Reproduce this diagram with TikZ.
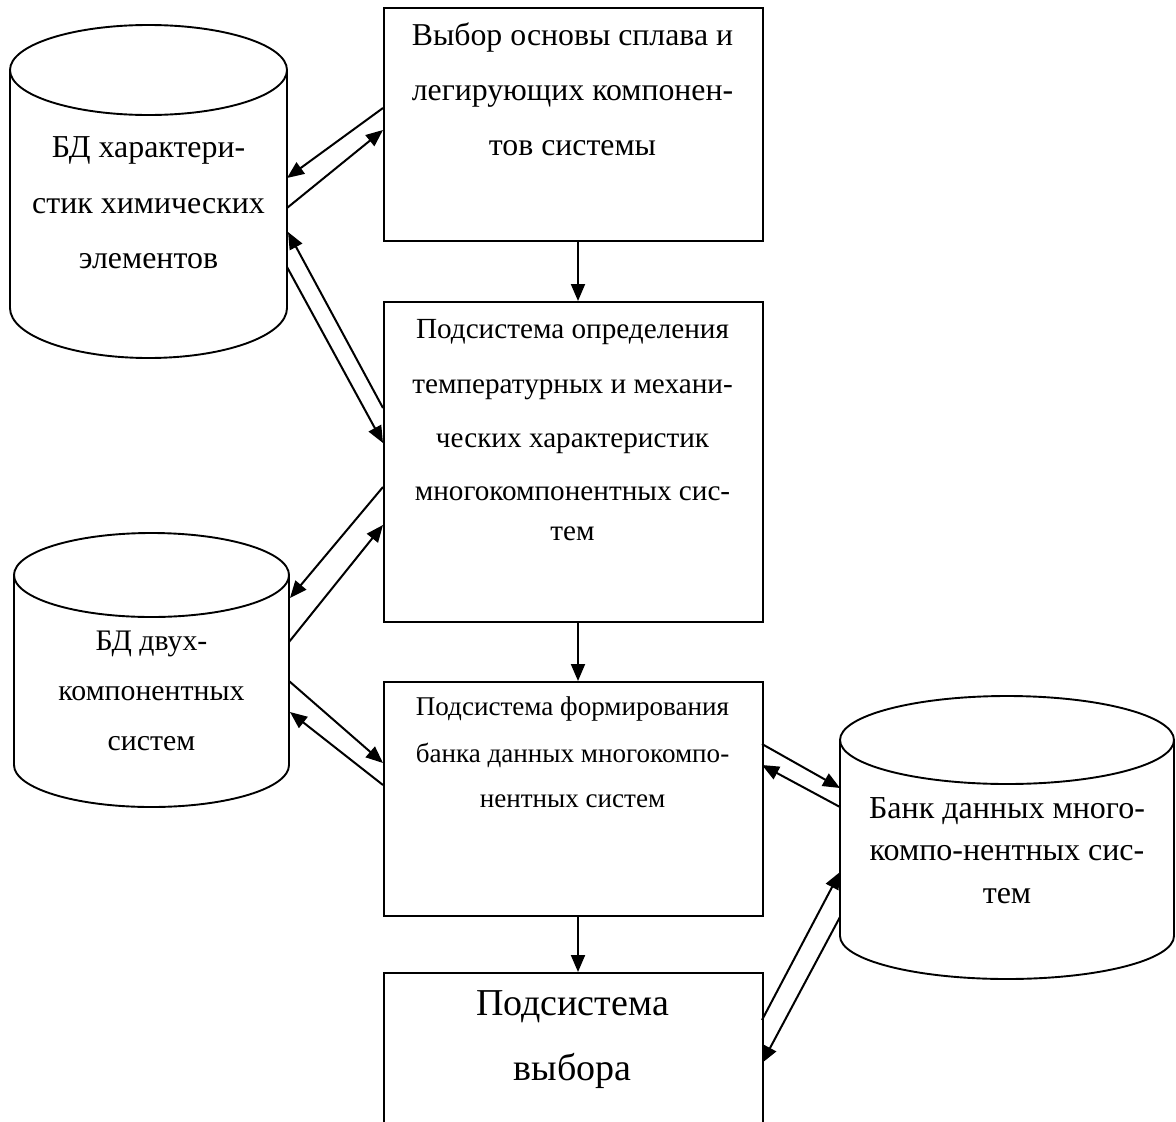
\documentclass[tikz,border=0pt]{standalone}
\usepackage{fontspec}
\setmainfont{Liberation Serif}
\usetikzlibrary{arrows.meta}
\begin{document}
\begin{tikzpicture}[x=1pt,y=-1pt,
  box/.style={draw, line width=2pt, rectangle, inner sep=0pt, anchor=north west, minimum width=379pt},
  ln/.style={anchor=base, inner sep=0pt},
  cyl/.style={line width=1.9pt},
  arr/.style={-{Triangle[length=17pt,width=14pt]}, line width=2pt}]
\useasboundingbox (0,0) rectangle (1176,1122);
\clip (0,0) rectangle (1176,1122);
% boxes
\node[box, minimum height=233pt] (b1) at (383,7) {};
\node[box, minimum height=320pt] (b2) at (383,301) {};
\node[box, minimum height=234pt] (b3) at (383,681) {};
\node[box, minimum height=200pt] (b4) at (383,972) {};
% cylinders
\draw[cyl] (10,70) -- (10,308) arc[start angle=180, end angle=360, x radius=138.5pt, y radius=50pt] -- (287,70);
\draw[cyl] (148.5,70) ellipse [x radius=138.5pt, y radius=45pt];
\draw[cyl] (14,575) -- (14,765) arc[start angle=180, end angle=360, x radius=137.5pt, y radius=42pt] -- (289,575);
\draw[cyl] (151.5,575) ellipse [x radius=137.5pt, y radius=42pt];
\draw[cyl] (840,740) -- (840,936) arc[start angle=180, end angle=360, x radius=167pt, y radius=43pt] -- (1174,740);
\draw[cyl] (1007,740) ellipse [x radius=167pt, y radius=44pt];
% texts
\node[ln, font=\fontsize{31.8}{31.8}\selectfont] (t11) at (572.5,45) {Выбор основы сплава и};
\node[ln, font=\fontsize{31.8}{31.8}\selectfont] (t12) at (572.5,100) {легирующих компонен-};
\node[ln, font=\fontsize{31.8}{31.8}\selectfont] (t13) at (572.5,155) {тов системы};
\node[ln, font=\fontsize{29.2}{29.2}\selectfont] (t21) at (572.5,338) {Подсистема определения};
\node[ln, font=\fontsize{29.2}{29.2}\selectfont] (t22) at (572.5,393) {температурных и механи-};
\node[ln, font=\fontsize{29.2}{29.2}\selectfont] (t23) at (572.5,447) {ческих характеристик};
\node[ln, font=\fontsize{29.2}{29.2}\selectfont] (t24) at (572.5,500) {многокомпонентных сис-};
\node[ln, font=\fontsize{29.2}{29.2}\selectfont] (t25) at (572.5,540) {тем};
\node[ln, font=\fontsize{27.1}{27.1}\selectfont] (t31) at (572.5,715) {Подсистема формирования};
\node[ln, font=\fontsize{27.1}{27.1}\selectfont] (t32) at (572.5,762) {банка данных многокомпо-};
\node[ln, font=\fontsize{27.1}{27.1}\selectfont] (t33) at (572.5,807) {нентных систем};
\node[ln, font=\fontsize{38}{38}\selectfont] (t41) at (572.5,1015) {Подсистема};
\node[ln, font=\fontsize{38}{38}\selectfont] (t42) at (572.5,1080) {выбора};
\node[ln, font=\fontsize{31.9}{31.9}\selectfont] (c11) at (148.5,157) {БД характери-};
\node[ln, font=\fontsize{31.9}{31.9}\selectfont] (c12) at (148.5,213) {стик химических};
\node[ln, font=\fontsize{31.9}{31.9}\selectfont] (c13) at (148.5,268) {элементов};
\node[ln, font=\fontsize{29.8}{29.8}\selectfont] (c21) at (151.5,650) {БД двух-};
\node[ln, font=\fontsize{29.8}{29.8}\selectfont] (c22) at (151.5,700) {компонентных};
\node[ln, font=\fontsize{29.8}{29.8}\selectfont] (c23) at (151.5,750) {систем};
\node[ln, font=\fontsize{32}{32}\selectfont] (c31) at (1007,818) {Банк данных много-};
\node[ln, font=\fontsize{32}{32}\selectfont] (c32) at (1007,860) {компо-нентных сис-};
\node[ln, font=\fontsize{32}{32}\selectfont] (c33) at (1007,903) {тем};
% connector end points
\coordinate (p1b) at (383,108);  \coordinate (p1c) at (287,178);
\coordinate (p2c) at (287,208);  \coordinate (p2b) at (383,130);
\coordinate (p3b) at (383,408);  \coordinate (p3c) at (288,232);
\coordinate (p4c) at (287,267);  \coordinate (p4b) at (383,443);
\coordinate (p5b) at (383,487);  \coordinate (p5c) at (290,598);
\coordinate (p6c) at (289,642);  \coordinate (p6b) at (383,525);
\coordinate (p7c) at (289,681);  \coordinate (p7b) at (383,763);
\coordinate (p8b) at (383,785);  \coordinate (p8c) at (290,712);
\coordinate (p9b) at (762,744);  \coordinate (p9c) at (840,788);
\coordinate (q1c) at (840,807);  \coordinate (q1b) at (762,765);
\coordinate (q2b) at (762,1020); \coordinate (q2c) at (840,872);
\coordinate (q3c) at (840,917);  \coordinate (q3b) at (762,1063);
% connectors
\draw[arr] (p1b) -- (p1c);
\draw[arr] (p2c) -- (p2b);
\draw[arr] (p3b) -- (p3c);
\draw[arr] (p4c) -- (p4b);
\draw[arr] (p5b) -- (p5c);
\draw[arr] (p6c) -- (p6b);
\draw[arr] (p7c) -- (p7b);
\draw[arr] (p8b) -- (p8c);
\draw[arr] (p9b) -- (p9c);
\draw[arr] (q1c) -- (q1b);
\draw[arr] (q2b) -- (q2c);
\draw[arr] (q3c) -- (q3b);
\draw[arr] (b1.south -| 578,0) -- (b2.north -| 578,0);
\draw[arr] (b2.south -| 578,0) -- (b3.north -| 578,0);
\draw[arr] (b3.south -| 578,0) -- (b4.north -| 578,0);
\end{tikzpicture}
\end{document}
